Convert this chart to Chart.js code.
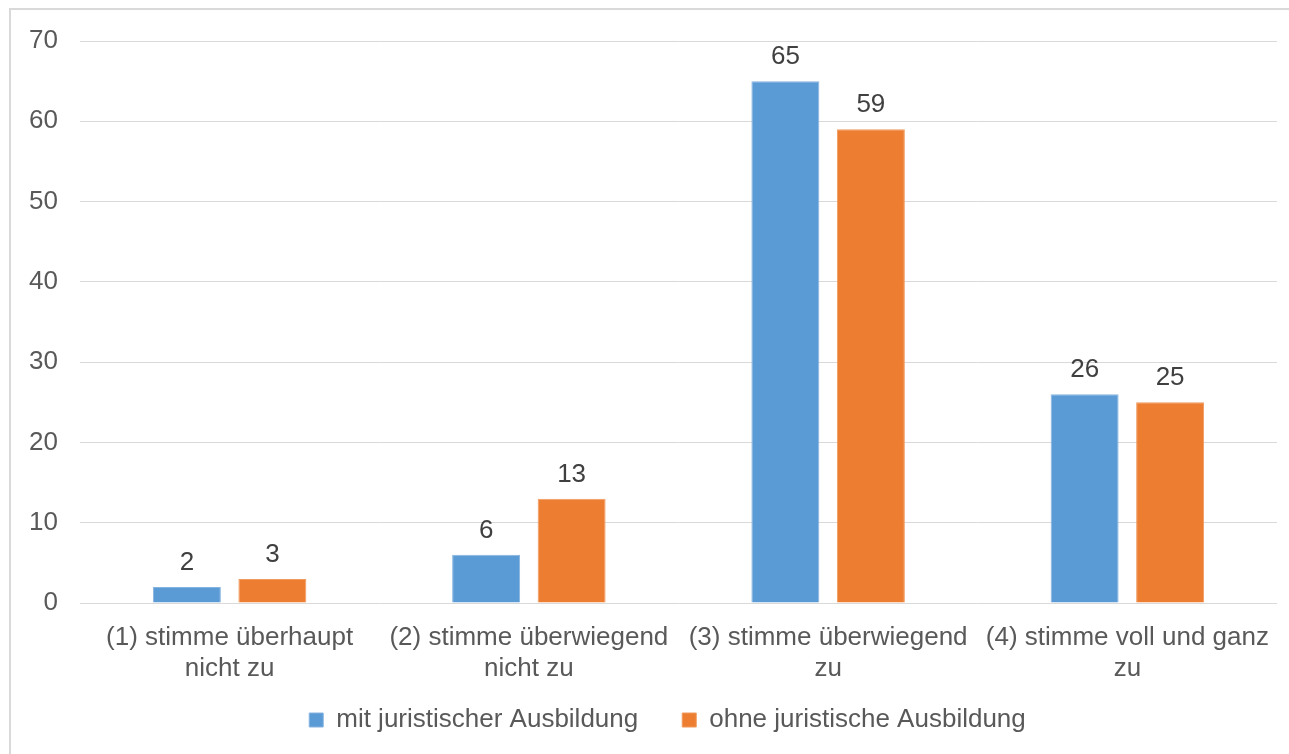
<!DOCTYPE html>
<html>
<head>
<meta charset="utf-8">
<script src="https://cdn.jsdelivr.net/npm/chart.js@4.4.1/dist/chart.umd.min.js"></script>
<style>
  html, body { margin: 0; padding: 0; background: #ffffff; overflow: hidden; width: 1289px; height: 754px; }
  #frame { position: absolute; left: 9px; top: 8px; width: 1400px; height: 900px;
           border-left: 2px solid #D9D9D9; border-top: 2px solid #D9D9D9; }
  #c { position: absolute; left: 0; top: 0; }
</style>
</head>
<body>
<div id="frame"></div>
<canvas id="c" width="1289" height="759"></canvas>
<script>
const categories = [
  ["(1) stimme überhaupt", "nicht zu"],
  ["(2) stimme überwiegend", "nicht zu"],
  ["(3) stimme überwiegend", "zu"],
  ["(4) stimme voll und ganz", "zu"]
];
const seriesNames = ["mit juristischer Ausbildung", "ohne juristische Ausbildung"];
const mitValues = [2, 6, 65, 26];
const ohneValues = [3, 13, 59, 25];
const yMin = 0, yMax = 70, yStep = 10;

const FONT = "'Liberation Sans', Arial, sans-serif";

const valueLabels = {
  id: 'valueLabels',
  afterDatasetsDraw(chart) {
    const ctx = chart.ctx;
    ctx.save();
    ctx.font = "26px " + FONT;
    ctx.fillStyle = '#404040';
    ctx.textAlign = 'center';
    ctx.textBaseline = 'alphabetic';
    chart.data.datasets.forEach((ds, di) => {
      const meta = chart.getDatasetMeta(di);
      meta.data.forEach((bar, i) => {
        ctx.fillText(String(ds.data[i]), bar.x, bar.y - 17);
      });
    });
    ctx.restore();
  }
};

// nudge the legend block to sit where the reference places it
const legendNudge = {
  id: 'legendNudge',
  afterLayout(chart) {
    const lg = chart.legend;
    if (!lg) return;
    const dx = 29, dy = -16;
    lg.left += dx; lg.right += dx;
    lg.top += dy; lg.bottom += dy;
  }
};

new Chart(document.getElementById('c'), {
  type: 'bar',
  data: {
    labels: categories,
    datasets: [
      { label: seriesNames[0], data: mitValues, backgroundColor: '#5B9BD5', borderColor: '#86B4E0', borderWidth: 1,
        categoryPercentage: 0.5714, barPercentage: 0.795 },
      { label: seriesNames[1], data: ohneValues, backgroundColor: '#ED7D31', borderColor: '#F09A5E', borderWidth: 1,
        categoryPercentage: 0.5714, barPercentage: 0.795 }
    ]
  },
  options: {
    responsive: false,
    devicePixelRatio: 1,
    animation: false,
    layout: { padding: { left: 0, right: 12, top: 41, bottom: 0 } },
    plugins: {
      tooltip: { enabled: false },
      legend: {
        position: 'bottom',
        labels: {
          boxWidth: 14, boxHeight: 14, padding: 44,
          color: '#595959',
          font: { family: FONT, size: 26 }
        }
      }
    },
    scales: {
      x: {
        grid: { display: false },
        border: { display: false },
        ticks: {
          color: '#595959', font: { family: FONT, size: 26, lineHeight: 1.2 },
          padding: 11, maxRotation: 0, minRotation: 0, autoSkip: false
        },
        afterFit(scale) { scale.height = 76; }
      },
      y: {
        min: yMin, max: yMax,
        grid: { color: '#D9D9D9', lineWidth: 1, drawTicks: false },
        border: { display: false },
        ticks: {
          stepSize: yStep, color: '#595959', font: { family: FONT, size: 26 }, padding: 22
        },
        afterFit(scale) { scale.width = 80; }
      }
    }
  },
  plugins: [valueLabels, legendNudge]
});
</script>
</body>
</html>
